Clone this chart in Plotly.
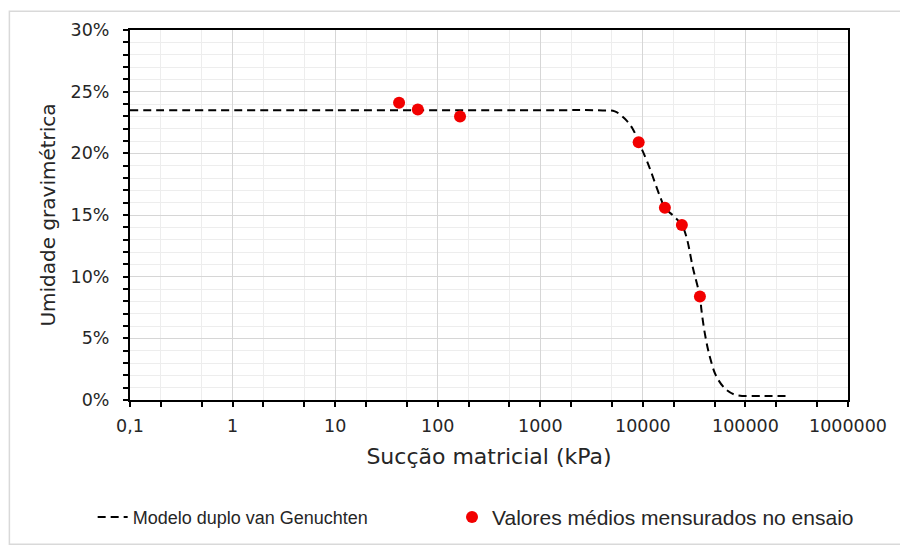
import plotly.graph_objects as go

# medições (kPa, umidade)
suc_med = [42, 64, 165, 9100, 16400, 24000, 36000]
umid_med = [0.241, 0.2355, 0.2298, 0.209, 0.1559, 0.1419, 0.0839]

# curva do modelo
suc_mod = [0.1, 10, 1000, 4070, 5330, 6680, 7950, 9100, 11000, 14700, 16400,
           20000, 24000, 26700, 30700, 36000, 37300, 40200, 45000, 52300,
           65500, 81800, 150000, 271000]
umid_mod = [0.235, 0.235, 0.235, 0.2348, 0.234, 0.228, 0.220, 0.209, 0.1935,
            0.165, 0.1559, 0.149, 0.1419, 0.1317, 0.1075, 0.0839, 0.0726,
            0.054, 0.0349, 0.0188, 0.0081, 0.0040, 0.0033, 0.0032]

x_ticks = [0.1, 1, 10, 100, 1000, 10000, 100000, 1000000]
x_labels = ["0,1", "1", "10", "100", "1000", "10000", "100000", "1000000"]
y_ticks = [0, 0.05, 0.10, 0.15, 0.20, 0.25, 0.30]
y_labels = ["0%", "5%", "10%", "15%", "20%", "25%", "30%"]

WIDE = "DejaVu Sans, Verdana, sans-serif"
ARIAL = "Liberation Sans, Arial, sans-serif"
TXT = "#262626"

fig = go.Figure()
fig.add_trace(go.Scatter(
    x=suc_mod, y=umid_mod, mode="lines", line_shape="spline",
    line=dict(color="black", width=2, dash="8px,5px"),
    name="Modelo duplo van Genuchten", legend="legend", showlegend=True))
fig.add_trace(go.Scatter(
    x=suc_med, y=umid_med, mode="markers",
    marker=dict(color="#f20000", size=12),
    name="Valores médios mensurados no ensaio", legend="legend2",
    showlegend=True))

tick_style = dict(ticklen=5, tickcolor="black", tickwidth=1.5)

fig.update_layout(
    width=908, height=547,
    showlegend=True,
    margin=dict(l=122, r=68, t=20, b=155),
    paper_bgcolor="white", plot_bgcolor="white",
    font=dict(family=WIDE, size=17.5, color=TXT),
    legend=dict(orientation="h", x=-0.052, xanchor="left", y=-0.317,
                yanchor="middle", visible=True,
                font=dict(family=ARIAL, size=18, color=TXT)),
    legend2=dict(orientation="h", x=0.4485, xanchor="left", y=-0.317,
                 yanchor="middle", visible=True,
                 font=dict(family=ARIAL, size=21, color=TXT)),
    xaxis=dict(type="log", range=[-1, 6], tickvals=x_ticks, ticktext=x_labels,
               showgrid=True, gridcolor="#d6d6d6", gridwidth=1,
               ticks="outside", ticklabelstandoff=4, **tick_style,
               minor=dict(showgrid=True, gridcolor="#ededed", ticks="outside",
                          **tick_style),
               showline=True, linecolor="black", linewidth=2, mirror=True,
               title=dict(text="Sucção matricial (kPa)",
                          font=dict(family=WIDE, size=22), standoff=14),
               zeroline=False),
    yaxis=dict(range=[0, 0.30], tickvals=y_ticks, ticktext=y_labels,
               showgrid=True, gridcolor="#d6d6d6", gridwidth=1,
               ticks="outside", ticklabelstandoff=10, **tick_style,
               minor=dict(dtick=0.01, showgrid=True, gridcolor="#ededed",
                          ticks="outside", **tick_style),
               showline=True, linecolor="black", linewidth=2, mirror=True,
               title=dict(text="Umidade gravimétrica",
                          font=dict(family=WIDE, size=20), standoff=10),
               zeroline=False),
    xaxis2=dict(type="log", range=[-1, 6], overlaying="x", side="bottom",
                anchor="y", tickvals=x_ticks, showticklabels=False,
                showgrid=False, ticks="inside", **tick_style,
                minor=dict(ticks="inside", **tick_style)),
    yaxis2=dict(range=[0, 0.30], overlaying="y", side="left", anchor="x",
                dtick=0.01, showticklabels=False, showgrid=False,
                ticks="inside", **tick_style),
)

# borda externa do gráfico
fig.add_shape(type="rect", xref="paper", yref="paper",
              x0=-0.168, x1=1.079, y0=-0.39, y1=1.051,
              line=dict(color="#d9d9d9", width=1.5), layer="below")

fig.write_html("out.html")
